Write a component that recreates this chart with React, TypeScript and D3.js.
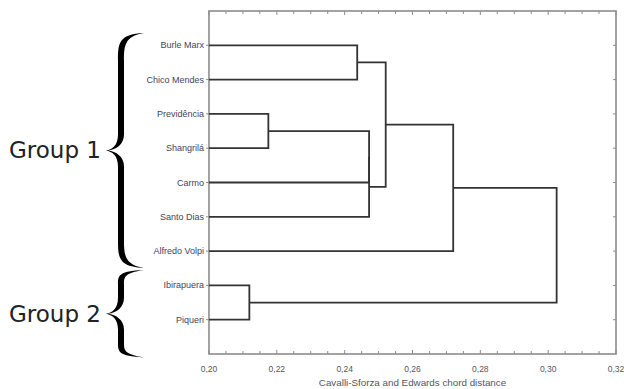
import React, { useEffect, useRef } from 'react';
import * as d3 from 'd3';

// leaves, top to bottom
const leaves = ['Burle Marx', 'Chico Mendes', 'Previdência', 'Shangrilá', 'Carmo', 'Santo Dias', 'Alfredo Volpi', 'Ibirapuera', 'Piqueri'];

// linkage: [left, right, distance]; ids >= leaves.length point to earlier merges
const merges: [number, number, number][] = [
  [0, 1, 0.2437],
  [2, 3, 0.2175],
  [10, 4, 0.2472],
  [11, 5, 0.2472],
  [9, 12, 0.2521],
  [13, 6, 0.2720],
  [7, 8, 0.2119],
  [14, 15, 0.3025],
];

const xTicks = [0.20, 0.22, 0.24, 0.26, 0.28, 0.30, 0.32];
const xTitle = 'Cavalli-Sforza and Edwards chord distance';

const groupNames = ['Group 1', 'Group 2'];
// brace extent in leaf-index units
const groupSpans: [number, number][] = [[-0.36, 6.49], [6.55, 9.1]];

const W = 624;
const H = 389;

function bracePath(xt: number, xs: number, xr: number, y0: number, y1: number) {
  const ym = (y0 + y1) / 2;
  const h = 3;
  const e = Math.min(28, (y1 - y0) / 6);
  return [
    `M${xr},${y0}`,
    `C${xs - h},${y0 + 1} ${xs - h},${y0 + e * 0.4} ${xs - h},${y0 + e}`,
    `L${xs - h},${ym - 16}`,
    `C${xs - h},${ym - 5} ${xt + 6},${ym - 1} ${xt},${ym}`,
    `C${xt + 6},${ym + 1} ${xs - h},${ym + 5} ${xs - h},${ym + 16}`,
    `L${xs - h},${y1 - e}`,
    `C${xs - h},${y1 - e * 0.4} ${xs - h},${y1 - 1} ${xr},${y1}`,
    `C${xs + h},${y1 - 3} ${xs + h},${y1 - e * 0.5} ${xs + h},${y1 - e}`,
    `L${xs + h},${ym + 16}`,
    `C${xs + h},${ym + 6} ${xt + 10},${ym + 1} ${xt + 2},${ym}`,
    `C${xt + 10},${ym - 1} ${xs + h},${ym - 6} ${xs + h},${ym - 16}`,
    `L${xs + h},${y0 + e}`,
    `C${xs + h},${y0 + e * 0.5} ${xs + h},${y0 + 3} ${xr},${y0}`,
    'Z',
  ].join(' ');
}

export default function App() {
  const ref = useRef<SVGSVGElement>(null);

  useEffect(() => {
    const svg = d3.select(ref.current);
    svg.selectAll('*').remove();

    const left = 209;
    const right = 616;
    const top = 11;
    const bottom = 354;

    const x = d3.scaleLinear().domain([0.20, 0.32]).range([left, right]);
    const y = d3.scaleLinear().domain([-1, leaves.length]).range([top, bottom]);

    svg.append('rect').attr('width', W).attr('height', H).attr('fill', '#fff');

    // frame
    const frame = svg.append('g').attr('stroke', '#8c8c8c').attr('fill', 'none');
    frame.append('rect')
      .attr('x', left).attr('y', top)
      .attr('width', right - left).attr('height', bottom - top)
      .attr('stroke-width', 1.6);

    const minor = d3.range(0.20, 0.3201, 0.005);
    minor.forEach((v, i) => {
      const len = i % 4 === 0 ? 4 : 3;
      frame.append('line').attr('x1', x(v)).attr('x2', x(v)).attr('y1', top).attr('y2', top + len).attr('stroke-width', 1);
      frame.append('line').attr('x1', x(v)).attr('x2', x(v)).attr('y1', bottom).attr('y2', bottom - len).attr('stroke-width', 1);
    });
    leaves.forEach((_, i) => {
      frame.append('line').attr('x1', right).attr('x2', right - 3).attr('y1', y(i)).attr('y2', y(i)).attr('stroke-width', 1);
      frame.append('line').attr('x1', left).attr('x2', left - 3).attr('y1', y(i)).attr('y2', y(i)).attr('stroke-width', 1);
    });

    // tick labels
    svg.append('g')
      .selectAll('text')
      .data(xTicks)
      .enter()
      .append('text')
      .attr('x', d => x(d))
      .attr('y', 372)
      .attr('text-anchor', 'middle')
      .attr('font-family', 'Liberation Sans, Arial, sans-serif')
      .attr('font-size', 8.5)
      .attr('fill', '#555566')
      .text(d => d3.format('.2f')(d).replace('.', ','));

    svg.append('text')
      .attr('x', (left + right) / 2)
      .attr('y', 386)
      .attr('text-anchor', 'middle')
      .attr('font-family', 'Liberation Sans, Arial, sans-serif')
      .attr('font-size', 9.8)
      .attr('fill', '#555566')
      .text(xTitle);

    // leaf labels
    svg.append('g')
      .selectAll('text')
      .data(leaves)
      .enter()
      .append('text')
      .attr('x', left - 5)
      .attr('y', (_, i) => y(i) + 3)
      .attr('text-anchor', 'end')
      .attr('font-family', 'Liberation Sans, Arial, sans-serif')
      .attr('font-size', 9)
      .attr('fill', '#44445c')
      .text(d => d);

    // node positions
    const nodes: { h: number; pos: number }[] = leaves.map((_, i) => ({ h: 0.20, pos: i }));
    merges.forEach(([a, b, h]) => {
      nodes.push({ h, pos: (nodes[a].pos + nodes[b].pos) / 2 });
    });

    const links = svg.append('g')
      .attr('fill', 'none')
      .attr('stroke', '#333')
      .attr('stroke-width', 1.8);
    merges.forEach(([a, b, h]) => {
      const na = nodes[a];
      const nb = nodes[b];
      const p = d3.path();
      p.moveTo(x(na.h), y(na.pos));
      p.lineTo(x(h), y(na.pos));
      p.lineTo(x(h), y(nb.pos));
      p.lineTo(x(nb.h), y(nb.pos));
      links.append('path').attr('d', p.toString());
    });

    // braces + group labels
    groupNames.forEach((name, i) => {
      const [s0, s1] = groupSpans[i];
      const y0 = y(s0);
      const y1 = y(s1);
      svg.append('path')
        .attr('d', bracePath(106, 121, 144, y0, y1))
        .attr('fill', '#000');
      svg.append('text')
        .attr('x', 9)
        .attr('y', (y0 + y1) / 2 + 8)
        .attr('font-family', 'DejaVu Sans, Verdana, sans-serif')
        .attr('font-size', 23)
        .attr('fill', '#222')
        .text(name);
    });
  }, []);

  return (
    <svg
      ref={ref}
      width={W}
      height={H}
      style={{ position: 'absolute', left: 0, top: 0 }}
    />
  );
}
